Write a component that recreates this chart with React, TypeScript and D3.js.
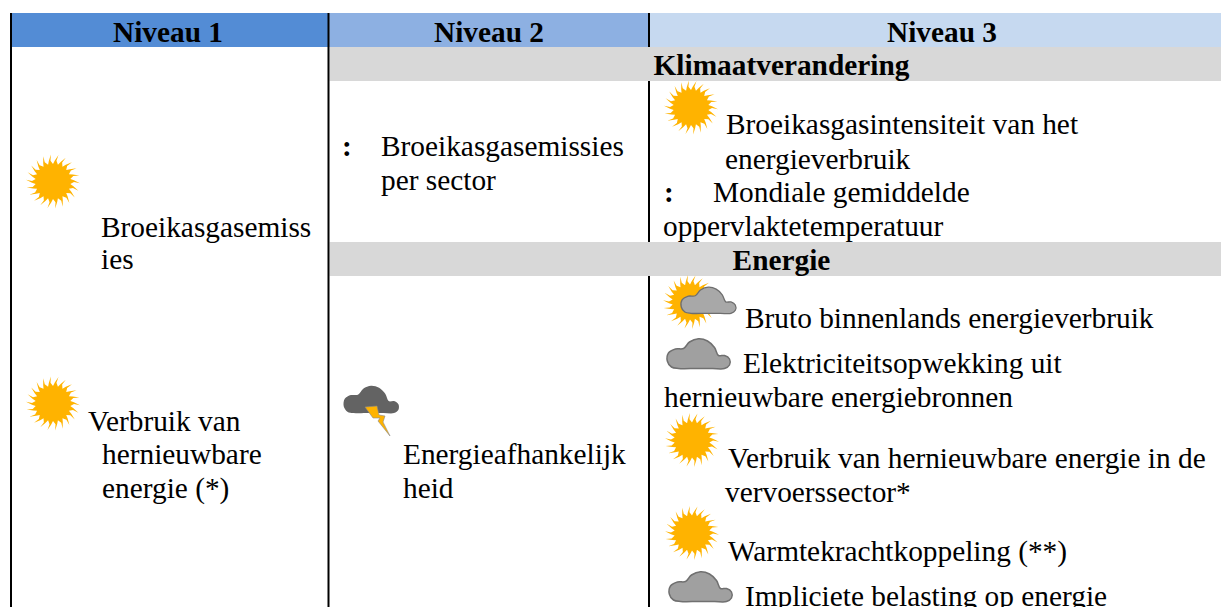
import React, { useEffect, useRef } from "react";
import * as d3 from "d3";

const headerLabels = ["Niveau 1", "Niveau 2", "Niveau 3"];
const bandLabels = ["Klimaatverandering", "Energie"];
const level1Lines = ["Broeikasgasemiss", "ies", "Verbruik van", "hernieuwbare", "energie (*)"];
const level2Lines = ["Broeikasgasemissies", "per sector", "Energieafhankelijk", "heid"];
const level3Lines = [
  "Broeikasgasintensiteit van het",
  "energieverbruik",
  "Mondiale gemiddelde",
  "oppervlaktetemperatuur",
  "Bruto binnenlands energieverbruik",
  "Elektriciteitsopwekking uit",
  "hernieuwbare energiebronnen",
  "Verbruik van hernieuwbare energie in de",
  "vervoerssector*",
  "Warmtekrachtkoppeling (**)",
  "Impliciete belasting op energie",
];
const colonMarks = ["colon-level2", "colon-level3"];
const iconNames = ["sun-a", "sun-b", "sun-c", "sun-d", "sun-e", "sun-f", "cloud-d", "cloud-g", "cloud-h", "storm"];

const W = 1221;
const H = 607;
const FONT = "'Liberation Serif', serif";
const FS = 29.35;

const bodyLines = [...level1Lines, ...level2Lines, ...level3Lines];
const lineX = d3.scaleOrdinal<string, number>().domain(bodyLines).range([
  101, 101, 88, 102, 102,
  381, 381, 403, 403,
  726, 725, 713, 663, 745, 743, 664, 728, 725, 728, 745,
]);
const lineY = d3.scaleOrdinal<string, number>().domain(bodyLines).range([
  237, 269, 431, 464, 498,
  156, 190, 464, 498,
  134, 169, 202, 236, 328, 373, 407, 468, 502, 561, 606,
]);
const headerCenter = d3.scaleOrdinal<string, number>().domain(headerLabels).range([168, 489, 942]);
const headerFill = d3.scaleOrdinal<string, string>().domain(headerLabels).range(["#538cd5", "#8db0e2", "#c6d9f0"]);
const headerEdges = d3.scaleOrdinal<string, number[]>().domain(headerLabels).range([[11, 328], [329, 648], [649, W]]);
const bandTop = d3.scaleOrdinal<string, number>().domain(bandLabels).range([47, 242]);
const iconPos = d3.scaleOrdinal<string, number[]>().domain(iconNames).range([
  [53, 181.5], [53, 403.5], [691, 107.5], [690, 302], [692, 440], [692, 533],
  [680.5, 286.5], [666.5, 338], [668.5, 571], [343, 385],
]);
const colonPos = d3.scaleOrdinal<string, number[]>().domain(colonMarks).range([[342, 156], [664, 202]]);

// wavy sun outline, rays lean a bit to one side
const sunPath = () => {
  const rays = 22;
  const step = (2 * Math.PI) / rays;
  const pts: [number, number][] = [];
  d3.range(rays).forEach((i) => {
    const a = i * step;
    pts.push([a, 17.5]);
    pts.push([a + step * 0.3, 21]);
    pts.push([a + step * 0.72, 27]);
    pts.push([a + step * 0.58, 21]);
  });
  return d3.lineRadial().curve(d3.curveLinearClosed)(pts) as string;
};

const cloudPts: [number, number][] = [
  [12, 30.5], [5, 29], [0.8, 23], [2, 15], [9, 11], [17, 10.5], [23, 4], [32, 0.8], [41, 3], [48, 9.5],
  [52, 17.5], [58, 17.5], [63, 21], [63, 27], [58, 30.5], [46, 30.5], [30, 30.5],
];
const cloudPath = d3.line().curve(d3.curveCatmullRomClosed.alpha(0.5))(cloudPts) as string;
const boltPts: [number, number][] = [[22, 22], [34, 21], [36, 30], [42, 31], [40, 37], [47, 51], [35, 36], [37, 33], [30, 33]];

const App = () => {
  const ref = useRef<SVGSVGElement>(null);

  useEffect(() => {
    const svg = d3.select(ref.current);
    svg.selectAll("*").remove();
    svg.attr("font-family", FONT).attr("font-size", FS).attr("fill", "#000");

    // the icons are soft in the original, so blur them a little
    svg.append("defs").append("filter").attr("id", "soft")
      .append("feGaussianBlur").attr("stdDeviation", 0.45);

    svg.selectAll("rect.head").data(headerLabels).join("rect")
      .attr("class", "head")
      .attr("x", (d) => headerEdges(d)[0])
      .attr("y", 13)
      .attr("width", (d) => headerEdges(d)[1] - headerEdges(d)[0])
      .attr("height", 34)
      .attr("fill", (d) => headerFill(d));
    svg.selectAll("text.head").data(headerLabels).join("text")
      .attr("class", "head")
      .attr("x", (d) => headerCenter(d))
      .attr("y", 41.5)
      .attr("text-anchor", "middle")
      .attr("font-weight", 700)
      .text((d) => d);

    svg.selectAll("rect.band").data(bandLabels).join("rect")
      .attr("class", "band")
      .attr("x", 329.5)
      .attr("y", (d) => bandTop(d))
      .attr("width", W - 329.5)
      .attr("height", 34)
      .attr("fill", "#d8d8d8");

    // column rules
    const rules: [number, number, number][] = [[11, 13, H], [328.5, 13, H], [649, 13, 47], [649, 81, 242], [649, 276, H]];
    svg.selectAll("line.rule").data(rules).join("line")
      .attr("class", "rule")
      .attr("x1", (d) => d[0]).attr("x2", (d) => d[0])
      .attr("y1", (d) => d[1]).attr("y2", (d) => d[2])
      .attr("stroke", "#000").attr("stroke-width", 2);

    svg.selectAll("text.band").data(bandLabels).join("text")
      .attr("class", "band")
      .attr("x", 781.5)
      .attr("y", (d) => bandTop(d) + 28)
      .attr("text-anchor", "middle")
      .attr("font-weight", 700)
      .text((d) => d);

    const icon = (name: string) => {
      const [x, y] = iconPos(name);
      return svg.append("g").attr("transform", `translate(${x},${y})`).attr("filter", "url(#soft)");
    };
    iconNames.filter((d) => d.startsWith("sun")).forEach((d) => {
      icon(d).append("path").attr("d", sunPath()).attr("fill", "#ffb300");
    });
    icon("cloud-d").append("path").attr("d", cloudPath)
      .attr("transform", "scale(0.87,0.88)")
      .attr("fill", "#a8a8a8").attr("stroke", "#6e6e6e").attr("stroke-width", 1.5);
    ["cloud-g", "cloud-h"].forEach((d) => {
      icon(d).append("path").attr("d", cloudPath)
        .attr("fill", "#a0a0a0").attr("stroke", "#707070").attr("stroke-width", 1.5);
    });
    const storm = icon("storm");
    storm.append("path").attr("d", cloudPath).attr("transform", "scale(0.88,0.92)").attr("fill", "#636363");
    storm.append("path").attr("d", d3.line().curve(d3.curveLinearClosed)(boltPts) as string)
      .attr("fill", "#ffb300").attr("stroke", "#8a8a8a").attr("stroke-width", 0.6);

    svg.selectAll("text.colon").data(colonMarks).join("text")
      .attr("class", "colon")
      .attr("x", (d) => colonPos(d)[0])
      .attr("y", (d) => colonPos(d)[1])
      .attr("font-weight", 700)
      .text(":");

    svg.selectAll("text.line").data(bodyLines).join("text")
      .attr("class", "line")
      .attr("x", (d) => lineX(d))
      .attr("y", (d) => lineY(d))
      .text((d) => d);
  }, []);

  return <svg ref={ref} width={W} height={H} style={{ position: "absolute", left: 0, top: 0 }} />;
};

export default App;
